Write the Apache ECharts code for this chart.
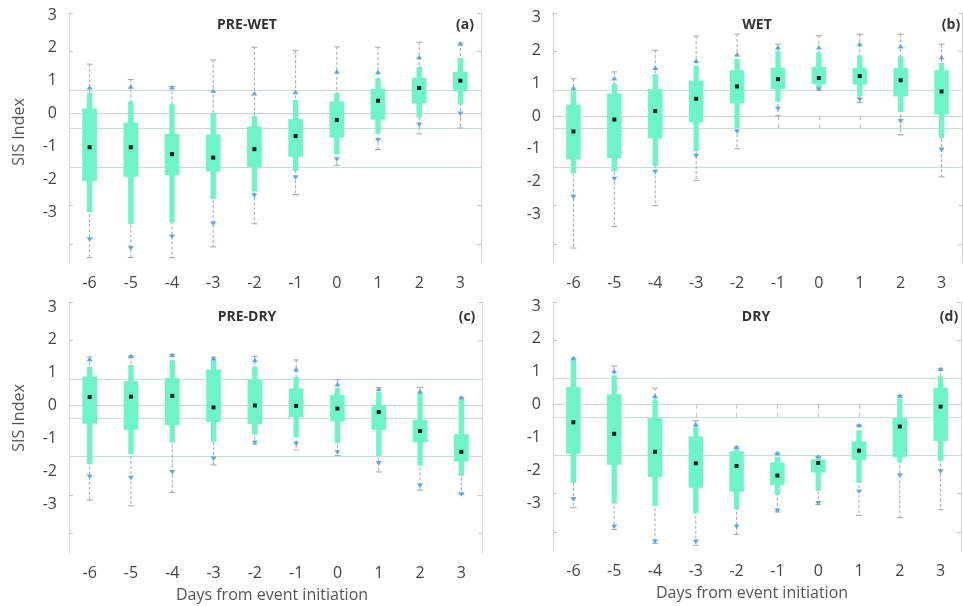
<!DOCTYPE html>
<html>
<head>
<meta charset="utf-8">
<title>SIS Index</title>
<script src="https://cdn.jsdelivr.net/npm/echarts@6.0.0/dist/echarts.min.js"></script>
<style>
  html, body { margin: 0; padding: 0; background: #fff; }
  #chart { width: 963px; height: 606px; }
</style>
</head>
<body>
<div id="chart"></div>
<script>
// categories and ticks
var days = ['-6', '-5', '-4', '-3', '-2', '-1', '0', '1', '2', '3'];
var yTicks = [-3, -2, -1, 0, 1, 2, 3];
var gridValues = [1, 0, -1];

// each row: [capLow, triLow, narrowLow, boxLow, median, boxHigh, narrowHigh, triHigh, capHigh]
var preWet = [
    [-3.36, -2.88, -2.18, -1.37, -0.49, 0.52, 0.93, 1.06, 1.67],
    [-3.36, -3.11, -2.49, -1.26, -0.49, 0.15, 0.70, 1.08, 1.27],
    [-3.36, -2.81, -2.45, -1.21, -0.67, -0.14, 0.63, 1.06, 1.09],
    [-3.08, -2.47, -1.84, -1.12, -0.76, -0.16, 0.40, 0.98, 1.78],
    [-2.48, -1.74, -1.64, -1.01, -0.54, 0.05, 0.32, 0.91, 2.11],
    [-1.72, -1.27, -1.11, -0.74, -0.20, 0.24, 0.74, 0.94, 2.03],
    [-0.96, -0.80, -0.67, -0.24, 0.22, 0.70, 0.92, 1.47, 2.12],
    [-0.55, -0.30, -0.14, 0.23, 0.72, 1.03, 1.30, 1.46, 2.11],
    [-0.14, 0.10, 0.28, 0.65, 1.05, 1.31, 1.60, 1.85, 2.24],
    [0.01, 0.39, 0.62, 0.97, 1.24, 1.47, 1.83, 2.20, 2.22]
];
var wet = [
    [-3.11, -1.78, -1.17, -0.81, -0.08, 0.62, 0.97, 1.05, 1.29],
    [-2.55, -1.31, -1.12, -0.77, 0.23, 0.91, 1.16, 1.30, 1.47],
    [-2.01, -1.13, -0.98, -0.26, 0.45, 1.02, 1.41, 1.57, 2.03],
    [-1.35, -0.71, -0.59, 0.16, 0.77, 1.24, 1.63, 1.75, 2.40],
    [-0.53, -0.08, 0.01, 0.65, 1.09, 1.51, 1.80, 1.92, 2.45],
    [0.33, 0.52, 0.69, 1.02, 1.28, 1.58, 2.01, 2.10, 2.19],
    [1.00, 1.02, 1.06, 1.15, 1.31, 1.60, 1.97, 2.10, 2.41],
    [0.67, 0.76, 0.84, 1.14, 1.36, 1.57, 1.90, 2.19, 2.45],
    [-0.17, 0.19, 0.43, 0.83, 1.25, 1.57, 1.87, 2.13, 2.45],
    [-1.26, -0.55, -0.25, 0.36, 0.96, 1.51, 1.70, 1.84, 2.19]
];
var preDry = [
    [-2.13, -1.52, -1.20, -0.15, 0.54, 1.07, 1.32, 1.52, 1.58],
    [-2.28, -1.55, -0.94, -0.31, 0.55, 0.95, 1.37, 1.60, 1.60],
    [-1.93, -1.40, -0.64, -0.19, 0.57, 1.03, 1.49, 1.63, 1.64],
    [-1.22, -1.05, -0.62, -0.11, 0.27, 1.25, 1.49, 1.54, 1.57],
    [-0.68, -0.64, -0.44, -0.16, 0.32, 0.99, 1.33, 1.49, 1.59],
    [-0.83, -0.67, -0.50, 0.02, 0.31, 0.76, 1.06, 1.25, 1.50],
    [-0.98, -0.89, -0.66, -0.09, 0.24, 0.59, 0.77, 0.87, 0.99],
    [-1.40, -1.17, -0.99, -0.31, 0.15, 0.32, 0.67, 0.74, 0.78],
    [-1.87, -1.75, -1.24, -0.63, -0.34, -0.05, 0.64, 0.68, 0.79],
    [-1.98, -1.98, -1.50, -1.13, -0.88, -0.42, 0.48, 0.53, 0.53]
];
var dry = [
    [-2.37, -2.14, -1.72, -0.96, -0.14, 0.78, 1.48, 1.53, 1.54],
    [-2.94, -2.86, -2.26, -1.25, -0.44, 0.59, 1.09, 1.19, 1.33],
    [-3.30, -3.25, -2.33, -1.57, -0.91, -0.03, 0.45, 0.54, 0.75],
    [-3.35, -3.25, -2.52, -1.85, -1.21, -0.51, -0.26, -0.20, -0.10],
    [-3.07, -2.86, -2.41, -1.95, -1.28, -0.90, -0.85, -0.79, -0.78],
    [-2.48, -2.44, -2.03, -1.78, -1.53, -1.19, -1.04, -0.95, -0.94],
    [-2.29, -2.25, -1.93, -1.45, -1.20, -1.11, -1.10, -1.03, -1.03],
    [-2.57, -1.95, -1.72, -1.12, -0.88, -0.64, -0.35, -0.22, -0.21],
    [-2.63, -1.52, -1.19, -1.05, -0.25, -0.03, 0.48, 0.55, 0.56],
    [-2.42, -1.42, -1.15, -0.63, 0.27, 0.76, 1.06, 1.25, 1.26]
];

var frameColor = '#d3d3d3';
var boxColor = '#6df5c9';
var triColor = '#5aa8e0';
var whiskerColor = '#a6a6a6';
var font = '"Open Sans", sans-serif';

// layout of the four panels
var panels = [
    { data: preWet, title: 'PRE-WET', tag: '(a)', left: 69, top: 13, width: 412, height: 250, titleX: 247, tagX: 465, titleY: 25, labelOff: 2 },
    { data: wet, title: 'WET', tag: '(b)', left: 553, top: 13, width: 409, height: 250, titleX: 757, tagX: 951, titleY: 25, labelOff: 4.3 },
    { data: preDry, title: 'PRE-DRY', tag: '(c)', left: 69, top: 302, width: 413, height: 251, titleX: 247, tagX: 467, titleY: 317, labelOff: 5 },
    { data: dry, title: 'DRY', tag: '(d)', left: 553, top: 302, width: 408, height: 249, titleX: 756, tagX: 949, titleY: 317, labelOff: 4 }
];
var labelStep = 32.9;   // px between printed y labels

function renderBox(params, api) {
    var i = api.value(0);
    function y(k) { return api.coord([i, api.value(k)])[1]; }
    var cx = api.coord([i, 0])[0];
    var bw = api.size([1, 0])[0];
    var wide = bw * 0.355, narrow = bw * 0.13;
    var capLow = y(1), triLow = y(2), narrowLow = y(3), boxLow = y(4), med = y(5),
        boxHigh = y(6), narrowHigh = y(7), triHigh = y(8), capHigh = y(9);
    return {
        type: 'group',
        children: [
            { type: 'line', shape: { x1: cx, y1: capHigh, x2: cx, y2: capLow },
              style: { stroke: whiskerColor, lineWidth: 1, lineDash: [3, 2] } },
            { type: 'line', shape: { x1: cx - 3, y1: capHigh, x2: cx + 3, y2: capHigh },
              style: { stroke: whiskerColor, lineWidth: 1 } },
            { type: 'line', shape: { x1: cx - 3, y1: capLow, x2: cx + 3, y2: capLow },
              style: { stroke: whiskerColor, lineWidth: 1 } },
            { type: 'rect', shape: { x: cx - narrow / 2, y: narrowHigh, width: narrow, height: narrowLow - narrowHigh },
              style: { fill: boxColor } },
            { type: 'rect', shape: { x: cx - wide / 2, y: boxHigh, width: wide, height: boxLow - boxHigh },
              style: { fill: boxColor } },
            { type: 'polygon', shape: { points: [[cx - 3, triHigh + 2], [cx + 3, triHigh + 2], [cx, triHigh - 2.5]] },
              style: { fill: triColor } },
            { type: 'polygon', shape: { points: [[cx - 3, triLow - 2], [cx + 3, triLow - 2], [cx, triLow + 2.5]] },
              style: { fill: triColor } },
            { type: 'rect', shape: { x: cx - 2, y: med - 2, width: 4, height: 4 },
              style: { fill: '#1a1a1a' } }
        ]
    };
}

var grids = [], xAxes = [], yAxes = [], series = [], graphics = [];
panels.forEach(function (p, n) {
    grids.push({ left: p.left, top: p.top, width: p.width, height: p.height, show: false });
    var lineStyle = { color: frameColor, width: 1 };
    var tick = { show: true, inside: true, length: 4, alignWithLabel: true, lineStyle: { color: '#c4c4c4' } };
    xAxes.push({
        gridIndex: n, type: 'category', data: days, position: 'bottom',
        axisLine: { lineStyle: lineStyle }, axisTick: tick,
        axisLabel: { margin: 12, fontSize: 16, color: '#444', fontFamily: font },
        splitLine: { show: false }
    });
    xAxes.push({
        gridIndex: n, type: 'category', data: days, position: 'top',
        axisLine: { lineStyle: lineStyle }, axisTick: tick,
        axisLabel: { show: false }, splitLine: { show: false }
    });
    var yTick = { show: true, inside: true, length: 4, customValues: yTicks, lineStyle: { color: '#c4c4c4' } };
    yAxes.push({
        gridIndex: n, type: 'value', min: -3.5, max: 3, position: 'left',
        axisLine: { show: true, lineStyle: lineStyle }, axisTick: yTick,
        axisLabel: { show: false }, splitLine: { show: false }
    });
    // printed labels sit on their own scale, as in the source figure
    var lmax = 3 + p.labelOff / labelStep;
    var lmin = lmax - p.height / labelStep;
    yAxes.push({
        gridIndex: n, type: 'value', min: lmin, max: lmax, position: 'left',
        axisLine: { show: false }, axisTick: { show: false },
        axisLabel: { customValues: yTicks, margin: 12, fontSize: 16, color: '#444', fontFamily: font },
        splitLine: { show: false }
    });
    yAxes.push({
        gridIndex: n, type: 'value', min: -3.5, max: 3, position: 'right',
        axisLine: { show: true, lineStyle: lineStyle }, axisTick: yTick,
        axisLabel: { show: false }, splitLine: { show: false }
    });
    series.push({
        type: 'custom',
        xAxisIndex: n * 2, yAxisIndex: n * 3,
        renderItem: renderBox,
        encode: { x: 0, y: [1, 2, 3, 4, 5, 6, 7, 8, 9] },
        data: p.data.map(function (row, i) { return [i].concat(row); }),
        z: 3,
        markLine: {
            silent: true, symbol: 'none', z: 1,
            label: { show: false },
            lineStyle: { color: '#cddada', type: 'solid', width: 1 },
            data: gridValues.map(function (v) { return { yAxis: v }; })
        }
    });
    graphics.push({
        type: 'text', x: p.titleX, y: p.titleY,
        style: { text: p.title, font: 'bold 14px ' + font, fill: '#333',
                 align: 'center', verticalAlign: 'middle', textAlign: 'center', textVerticalAlign: 'middle' }
    });
    graphics.push({
        type: 'text', x: p.tagX, y: p.titleY,
        style: { text: p.tag, font: 'bold 14px ' + font, fill: '#333',
                 align: 'center', verticalAlign: 'middle', textAlign: 'center', textVerticalAlign: 'middle' }
    });
});

// axis names
[[19, 132], [19, 418]].forEach(function (pos) {
    graphics.push({
        type: 'text', x: pos[0], y: pos[1], rotation: Math.PI / 2,
        style: { text: 'SIS Index', font: '16px ' + font, fill: '#555',
                 align: 'center', verticalAlign: 'middle', textAlign: 'center', textVerticalAlign: 'middle' }
    });
});
[[272, 595], [752, 593]].forEach(function (pos) {
    graphics.push({
        type: 'text', x: pos[0], y: pos[1],
        style: { text: 'Days from event initiation', font: '16px ' + font, fill: '#555',
                 align: 'center', verticalAlign: 'middle', textAlign: 'center', textVerticalAlign: 'middle' }
    });
});

var myChart = echarts.init(document.getElementById('chart'));
myChart.setOption({
    animation: false,
    backgroundColor: '#fff',
    grid: grids,
    xAxis: xAxes,
    yAxis: yAxes,
    series: series,
    graphic: graphics
});
</script>
</body>
</html>
